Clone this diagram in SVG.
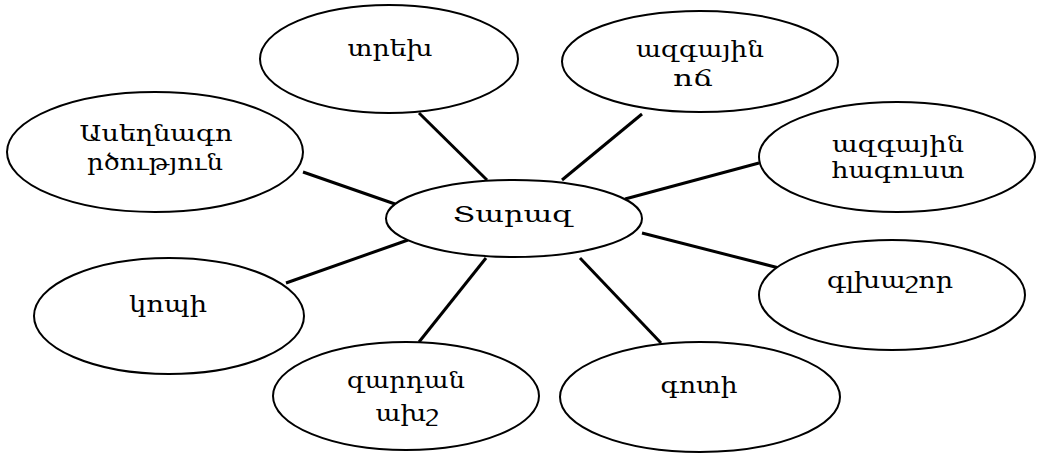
<svg xmlns="http://www.w3.org/2000/svg" width="1037" height="455" viewBox="0 0 1037 455">
<style>
.n ellipse{fill:#fff;stroke:#000;stroke-width:2}
.e line{stroke:#000;stroke-width:3}
text{font-family:"DejaVu Serif","Noto Sans",serif;font-size:23px;fill:#000;text-anchor:middle}
</style>
<rect width="1037" height="455" fill="#fff"/>
<g id="connectors" class="e">
<line x1="419" y1="113" x2="487" y2="180"/>
<line x1="303" y1="172" x2="395" y2="204"/>
<line x1="642" y1="114" x2="562" y2="180"/>
<line x1="625" y1="199" x2="759" y2="163"/>
<line x1="286" y1="283" x2="408" y2="240"/>
<line x1="486" y1="258" x2="419" y2="342"/>
<line x1="642" y1="233" x2="779" y2="268"/>
<line x1="580" y1="258" x2="661" y2="343"/>
</g>
<g id="n-center" class="n"><ellipse cx="514" cy="218.5" rx="128" ry="38.5"/><text x="513" y="222" textLength="120" lengthAdjust="spacingAndGlyphs">Տարազ</text></g>
<g id="n-trekh" class="n"><ellipse cx="389" cy="59" rx="129" ry="54"/><text x="390" y="56" textLength="85" lengthAdjust="spacingAndGlyphs">տրեխ</text></g>
<g id="n-asegh" class="n"><ellipse cx="155" cy="152" rx="148" ry="60"/><text x="156" y="141" textLength="153" lengthAdjust="spacingAndGlyphs">Ասեղնագո</text><text x="155" y="170" textLength="136" lengthAdjust="spacingAndGlyphs">րծություն</text></g>
<g id="n-och" class="n"><ellipse cx="700" cy="61.5" rx="138" ry="50.5"/><text x="700" y="57" textLength="128" lengthAdjust="spacingAndGlyphs">ազգային</text><text x="693" y="86" textLength="40" lengthAdjust="spacingAndGlyphs">ոճ</text></g>
<g id="n-hagust" class="n"><ellipse cx="897" cy="157" rx="138" ry="55"/><text x="898" y="152" textLength="132" lengthAdjust="spacingAndGlyphs">ազգային</text><text x="898" y="178" textLength="133" lengthAdjust="spacingAndGlyphs">հագուստ</text></g>
<g id="n-kopi" class="n"><ellipse cx="169" cy="316" rx="135" ry="58"/><text x="168" y="312" textLength="78" lengthAdjust="spacingAndGlyphs">կոպի</text></g>
<g id="n-zard" class="n"><ellipse cx="406" cy="396" rx="133" ry="54"/><text x="406" y="388" textLength="118" lengthAdjust="spacingAndGlyphs">զարդան</text><text x="407" y="421" textLength="63" lengthAdjust="spacingAndGlyphs">ախշ</text></g>
<g id="n-glkh" class="n"><ellipse cx="892" cy="295" rx="133" ry="55"/><text x="890" y="288" textLength="126" lengthAdjust="spacingAndGlyphs">գլխաշոր</text></g>
<g id="n-goti" class="n"><ellipse cx="700" cy="397" rx="140" ry="55"/><text x="699" y="393" textLength="77" lengthAdjust="spacingAndGlyphs">գոտի</text></g>
</svg>
